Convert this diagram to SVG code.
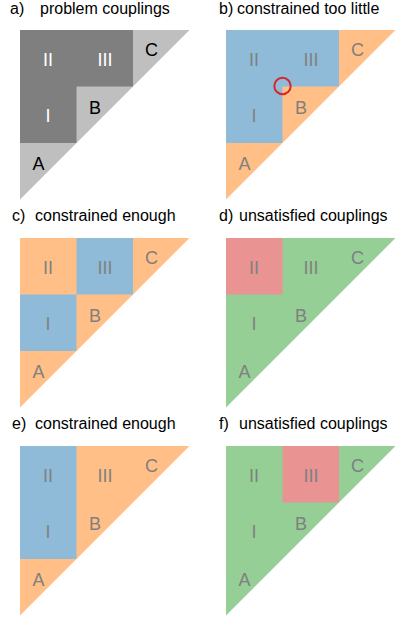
<svg xmlns="http://www.w3.org/2000/svg" width="416" height="624" viewBox="0 0 416 624">
<defs>
<style>
.t{font-family:"Liberation Sans",Arial,sans-serif;font-size:16px;fill:#000}
.l{font-family:"Liberation Sans",Arial,sans-serif;font-size:18px;text-anchor:middle;fill:#808080}
.dk{fill:#7f7f7f}.lg{fill:#bfbfbf}
.bl{fill:#8fbbd9}.or{fill:#ffbf86}.gr{fill:#95cf95}.rd{fill:#ea9393}
</style>
<polygon id="tri" points="0,0 169.5,0 0,169.5"/>
</defs>
<rect width="416" height="624" fill="#fff"/>

<g id="panel-a">
<text class="t" x="10" y="13.5">a)</text><text class="t" x="40" y="13.5">problem couplings</text>
<g transform="translate(20,30)">
<use href="#tri" class="lg"/>
<polygon class="dk" points="0,0 113,0 113,56.5 56.5,56.5 56.5,113 0,113"/>
<text class="l" x="28" y="35.5" style="fill:#fff">II</text>
<text class="l" x="85" y="35.5" style="fill:#fff">III</text>
<text class="l" x="28" y="91.5" style="fill:#fff">I</text>
<text class="l" x="131.5" y="25.5" style="fill:#000">C</text>
<text class="l" x="75" y="83.5" style="fill:#000">B</text>
<text class="l" x="18.5" y="139.5" style="fill:#000">A</text>
</g>
</g>

<g id="panel-b">
<text class="t" x="219" y="13.5">b)</text><text class="t" x="237" y="13.5">constrained too little</text>
<g transform="translate(226,30)">
<use href="#tri" class="or"/>
<polygon class="bl" points="0,0 113,0 113,56.5 56.5,56.5 56.5,113 0,113"/>
<text class="l" x="28" y="35.5">II</text>
<text class="l" x="85" y="35.5">III</text>
<text class="l" x="28" y="91.5">I</text>
<text class="l" x="131.5" y="25.5">C</text>
<text class="l" x="75" y="83.5">B</text>
<text class="l" x="18.5" y="139.5">A</text>
<circle cx="56.5" cy="56" r="8.2" fill="none" stroke="#d62728" stroke-width="2"/>
</g>
</g>

<g id="panel-c">
<text class="t" x="12" y="221">c)</text><text class="t" x="35" y="221">constrained enough</text>
<g transform="translate(20,238)">
<use href="#tri" class="or"/>
<rect class="bl" x="56.5" y="0" width="56.5" height="56.5"/>
<rect class="bl" x="0" y="56.5" width="56.5" height="56.5"/>
<text class="l" x="28" y="35.5">II</text>
<text class="l" x="85" y="35.5">III</text>
<text class="l" x="28" y="91.5">I</text>
<text class="l" x="131.5" y="25.5">C</text>
<text class="l" x="75" y="83.5">B</text>
<text class="l" x="18.5" y="139.5">A</text>
</g>
</g>

<g id="panel-d">
<text class="t" x="219" y="221">d)</text><text class="t" x="239" y="221">unsatisfied couplings</text>
<g transform="translate(226,238)">
<use href="#tri" class="gr"/>
<rect class="rd" x="0" y="0" width="56.5" height="56.5"/>
<text class="l" x="28" y="35.5">II</text>
<text class="l" x="85" y="35.5">III</text>
<text class="l" x="28" y="91.5">I</text>
<text class="l" x="131.5" y="25.5">C</text>
<text class="l" x="75" y="83.5">B</text>
<text class="l" x="18.5" y="139.5">A</text>
</g>
</g>

<g id="panel-e">
<text class="t" x="12" y="429">e)</text><text class="t" x="35" y="429">constrained enough</text>
<g transform="translate(20,446)">
<use href="#tri" class="or"/>
<rect class="bl" x="0" y="0" width="56.5" height="113"/>
<text class="l" x="28" y="35.5">II</text>
<text class="l" x="85" y="35.5">III</text>
<text class="l" x="28" y="91.5">I</text>
<text class="l" x="131.5" y="25.5">C</text>
<text class="l" x="75" y="83.5">B</text>
<text class="l" x="18.5" y="139.5">A</text>
</g>
</g>

<g id="panel-f">
<text class="t" x="219" y="429">f)</text><text class="t" x="239" y="429">unsatisfied couplings</text>
<g transform="translate(226,446)">
<use href="#tri" class="gr"/>
<rect class="rd" x="56.5" y="0" width="56.5" height="56.5"/>
<text class="l" x="28" y="35.5">II</text>
<text class="l" x="85" y="35.5">III</text>
<text class="l" x="28" y="91.5">I</text>
<text class="l" x="131.5" y="25.5">C</text>
<text class="l" x="75" y="83.5">B</text>
<text class="l" x="18.5" y="139.5">A</text>
</g>
</g>
</svg>
